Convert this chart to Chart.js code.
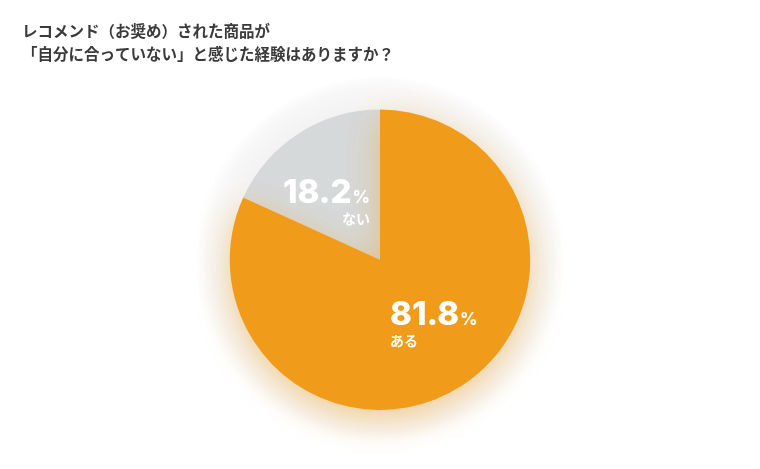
<!DOCTYPE html>
<html><head><meta charset="utf-8">
<script src="https://cdn.jsdelivr.net/npm/chart.js@4.4.1/dist/chart.umd.min.js"></script>
<style>html,body{margin:0;padding:0;background:#fff}#wrap{width:760px;height:469px}</style>
</head><body><div id="wrap"><canvas id="c" width="760" height="469"></canvas></div>
<script>
const titleLines = ["レコメンド（お奨め）された商品が", "「自分に合っていない」と感じた経験はありますか？"];
const categories = ["ある", "ない"];
const values = [81.8, 18.2];
const colors = ["#F09C1A", "#D6D9DA"];

const JP = '"Noto Sans CJK JP", "Noto Sans", sans-serif';
const NUM = 'Inter, Lato, "Noto Sans", sans-serif';

const effects = {
  id: 'effects',
  beforeDatasetsDraw(chart) {
    const arc = chart.getDatasetMeta(0).data[0];
    if (!arc) return;
    const ctx = chart.ctx, cx = arc.x, cy = arc.y, r = arc.outerRadius;
    const g = ctx.createRadialGradient(cx, cy, r - 2, cx, cy, r + 36);
    g.addColorStop(0, 'rgba(0,0,0,0.05)');
    g.addColorStop(0.6, 'rgba(0,0,0,0.03)');
    g.addColorStop(1, 'rgba(0,0,0,0)');
    ctx.save();
    ctx.fillStyle = g;
    ctx.beginPath(); ctx.arc(cx, cy + 4, r + 36, 0, Math.PI * 2); ctx.fill();
    ctx.restore();
  },
  beforeDatasetDraw(chart, args) {
    const ctx = chart.ctx;
    const els = args.meta.data;
    for (let i = els.length - 1; i >= 0; i--) {
      ctx.save();
      if (i === 0) {
        ctx.shadowColor = 'rgba(240,156,26,0.45)';
        ctx.shadowBlur = 34;
        ctx.shadowOffsetY = 10;
      }
      els[i].draw(ctx, chart.chartArea);
      ctx.restore();
    }
    return false;
  },
  afterDatasetsDraw(chart) {
    const meta = chart.getDatasetMeta(0);
    const ctx = chart.ctx;
    const cx = meta.data[0].x, cy = meta.data[0].y, r = meta.data[0].outerRadius;
    const specs = [
      { i: 0, x: cx + 0.067 * r, y: cy + 0.433 * r, align: 'left' },
      { i: 1, x: cx - 0.067 * r, y: cy - 0.38 * r, align: 'right' }
    ];
    ctx.save();
    ctx.fillStyle = '#ffffff';
    ctx.textBaseline = 'alphabetic';
    specs.forEach(s => {
      const num = values[s.i].toFixed(1);
      ctx.font = '800 33px ' + NUM;
      const wn = ctx.measureText(num).width;
      ctx.font = '800 17px ' + NUM;
      const wp = ctx.measureText('%').width + 1;
      const x0 = s.align === 'left' ? s.x : s.x - wn - wp;
      ctx.font = '800 33px ' + NUM;
      ctx.textAlign = 'left';
      ctx.fillText(num, x0, s.y);
      ctx.font = '800 17px ' + NUM;
      ctx.fillText('%', x0 + wn + 1, s.y);
      ctx.font = '700 14px ' + JP;
      ctx.textAlign = s.align;
      ctx.fillText(categories[s.i], s.x, s.y + 21);
    });
    ctx.restore();
  }
};

new Chart(document.getElementById('c'), {
  type: 'pie',
  data: {
    labels: categories,
    datasets: [{ data: values, backgroundColor: colors, borderWidth: 0, hoverOffset: 0 }]
  },
  options: {
    responsive: false,
    animation: false,
    events: [],
    layout: { padding: { left: 22, right: 22, top: 0, bottom: 59 } },
    plugins: {
      legend: { display: false },
      tooltip: { enabled: false },
      title: {
        display: true,
        text: titleLines,
        align: 'start',
        color: '#3a3a3a',
        font: { family: JP, size: 15.5, weight: '700', lineHeight: 1.5 },
        padding: { top: 19, bottom: 44 }
      }
    }
  },
  plugins: [effects]
});
</script></body></html>
